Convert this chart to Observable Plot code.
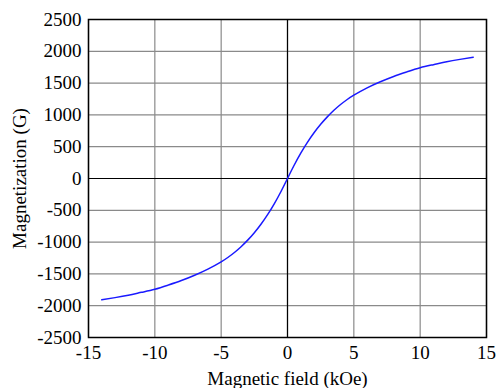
<!DOCTYPE html>
<html><head><meta charset="utf-8">
<script src="https://cdn.jsdelivr.net/npm/d3@7"></script>
<script src="https://cdn.jsdelivr.net/npm/@observablehq/plot@0.6"></script>
<style>
html,body{margin:0;padding:0;background:#fff;color:#000;}
#chart svg, #chart svg text{font-family:"Liberation Serif","Times New Roman",serif !important;font-variant:normal !important;}
</style>
</head><body><div id="chart"></div>
<script>
const fieldKOe = [-14,-13,-12,-11,-10,-9,-8,-7,-6,-5,-4.5,-4,-3.5,-3,-2.5,-2,-1.5,-1,-0.5,0,0.5,1,1.5,2,2.5,3,3.5,4,4.5,5,6,7,8,9,10,11,12,13,14];
const magnetization = [-1908,-1873,-1835,-1790,-1742,-1677,-1605,-1521,-1425,-1310,-1242,-1163,-1072,-969,-852,-719,-568,-398,-208,0,208,398,568,719,852,969,1072,1163,1242,1310,1425,1521,1605,1677,1742,1790,1835,1873,1908];
const xTicks = [-15,-10,-5,0,5,10,15];
const yTicks = [-2500,-2000,-1500,-1000,-500,0,500,1000,1500,2000,2500];
const xLabel = "Magnetic field (kOe)";
const yLabel = "Magnetization (G)";

const data = fieldKOe.map((x, i) => ({x, y: magnetization[i]}));
const font = "Liberation Serif";
const fmt = d => String(d);

const chart = Plot.plot({
  width: 496, height: 388,
  marginLeft: 88, marginRight: 10, marginTop: 19, marginBottom: 51,
  style: {fontFamily: font, fontSize: "19px", background: "#fff", color: "#000"},
  x: {domain: [-15, 15]},
  y: {domain: [-2500, 2500]},
  marks: [
    Plot.gridX(xTicks, {stroke: "#8a8a8a", strokeOpacity: 1, strokeWidth: 1.2}),
    Plot.gridY(yTicks, {stroke: "#8a8a8a", strokeOpacity: 1, strokeWidth: 1.2}),
    Plot.ruleX([0], {stroke: "#000", strokeWidth: 1.2}),
    Plot.ruleY([0], {stroke: "#000", strokeWidth: 1.2}),
    Plot.axisX(xTicks, {tickSize: 0, tickPadding: 8, fontSize: 19, tickFormat: fmt, label: xLabel, labelAnchor: "center", labelArrow: "none", labelOffset: 47}),
    Plot.axisY(yTicks, {tickSize: 0, tickPadding: 7, fontSize: 19, tickFormat: fmt, label: yLabel, labelAnchor: "center", labelArrow: "none", labelOffset: 76}),
    Plot.line(data, {x: "x", y: "y", stroke: "#1a1aff", strokeWidth: 1.5, curve: "natural"}),
    Plot.frame({stroke: "#000", strokeWidth: 1.5})
  ]
});
document.getElementById("chart").appendChild(chart);
</script></body></html>
